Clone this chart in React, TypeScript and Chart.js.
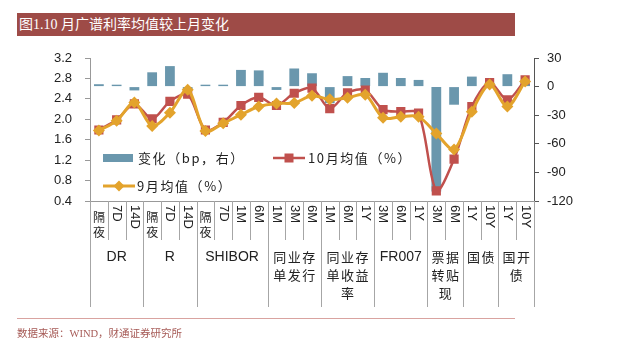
import React, { useEffect, useRef } from 'react';
import { Chart, registerables } from 'chart.js';
Chart.register(...registerables);

const categories = ['隔夜', '7D', '14D', '隔夜', '7D', '14D', '隔夜', '7D', '1M', '6M', '1M', '3M', '6M', '1M', '6M', '1Y', '3M', '6M', '1Y', '3M', '6M', '1Y', '10Y', '1Y', '10Y'];
const groupNames = ['DR', 'R', 'SHIBOR', '同业存\n单发行', '同业存\n单收益\n率', 'FR007', '票据\n转贴\n现', '国债', '国开\n债'];
const groupSpans = [3, 3, 4, 3, 3, 3, 2, 2, 2];

const changeBp = [2.5, 2, -4, 15, 21.5, -3, 2, 2, 17.5, 17, -3.5, 19, 14, -17.5, 11, 9, 14.5, 9, 7, -110, -19, 10.5, 4, 13, 3];
const octAvg = [1.79, 1.99, 2.30, 2.01, 2.35, 2.49, 1.79, 1.94, 2.27, 2.43, 2.27, 2.51, 2.61, 2.21, 2.52, 2.57, 2.19, 2.15, 2.12, 0.60, 1.22, 2.25, 2.72, 2.38, 2.77];
const sepAvg = [1.78, 1.97, 2.33, 1.87, 2.13, 2.58, 1.77, 1.92, 2.09, 2.25, 2.31, 2.32, 2.46, 2.39, 2.42, 2.48, 2.03, 2.05, 2.05, 1.72, 1.41, 2.15, 2.68, 2.25, 2.74];

const leftTicks = { min: 0.4, max: 3.2, step: 0.4 };
const rightTicks = { min: -120, max: 30, step: 30 };

const labelChange = '变化（bp，右）';
const labelOct = '10月均值（%）';
const labelSep = '9月均值（%）';

const BLUE = '#6A97AD';
const RED = '#C0504D';
const ORANGE = '#E3A32C';
const FONT = '"Liberation Sans", Arial, "Noto Sans CJK SC", sans-serif';
const CJK = '"Noto Sans CJK SC", "Liberation Sans", sans-serif';

const customPlugin = {
  id: 'customDraw',
  afterDraw(chart: any) {
    const ctx = chart.ctx as CanvasRenderingContext2D;
    const xs = chart.scales.x;
    const area = chart.chartArea;
    const n = categories.length;
    const top = area.bottom;
    const bounds = new Set<number>();
    let acc = 0;
    groupSpans.forEach((s) => { bounds.add(acc); acc += s; });
    bounds.add(acc);
    const boundaryX = (i: number) =>
      i === 0 ? xs.left : i === n ? xs.right : (xs.getPixelForValue(i - 1) + xs.getPixelForValue(i)) / 2;

    ctx.save();
    ctx.strokeStyle = '#A6A6A6';
    ctx.lineWidth = 1;
    for (let i = 0; i <= n; i++) {
      const x = Math.round(boundaryX(i)) + 0.5;
      ctx.beginPath();
      ctx.moveTo(x, top);
      ctx.lineTo(x, top + (bounds.has(i) ? 106 : 39));
      ctx.stroke();
    }

    ctx.fillStyle = '#222';
    for (let i = 0; i < n; i++) {
      const cx = xs.getPixelForValue(i);
      const lab = categories[i];
      if (/[\u4e00-\u9fff]/.test(lab)) {
        ctx.font = '12px ' + CJK;
        ctx.textAlign = 'center';
        ctx.textBaseline = 'middle';
        [...lab].forEach((ch, k) => ctx.fillText(ch, cx, top + 16 + k * 15));
      } else {
        ctx.save();
        ctx.font = '13px ' + FONT;
        ctx.translate(cx, top + 4);
        ctx.rotate(Math.PI / 2);
        ctx.textAlign = 'left';
        ctx.textBaseline = 'middle';
        ctx.fillText(lab, 0, 0);
        ctx.restore();
      }
    }

    acc = 0;
    groupNames.forEach((g, gi) => {
      const s = groupSpans[gi];
      const x0 = boundaryX(acc);
      const x1 = boundaryX(acc + s);
      acc += s;
      const cx = (x0 + x1) / 2;
      ctx.textAlign = 'center';
      ctx.textBaseline = 'middle';
      g.split('\n').forEach((line, k) => {
        const y = top + 56 + k * 18;
        if (/[\u4e00-\u9fff]/.test(line)) {
          ctx.font = '13px ' + CJK;
          const pitch = 14.5;
          const chars = [...line];
          const startX = cx - ((chars.length - 1) * pitch) / 2;
          chars.forEach((ch, j) => ctx.fillText(ch, startX + j * pitch, y));
        } else {
          ctx.font = '14px ' + FONT;
          ctx.fillText(line, cx, y);
        }
      });
    });

    // legend
    ctx.font = '13px ' + CJK;
    (ctx as any).letterSpacing = '1.6px';
    ctx.textAlign = 'left';
    ctx.textBaseline = 'middle';
    ctx.fillStyle = BLUE;
    ctx.fillRect(103, 154, 30, 8);
    ctx.fillStyle = '#222';
    ctx.fillText(labelChange, 138, 158);

    ctx.strokeStyle = RED;
    ctx.lineWidth = 2.5;
    ctx.beginPath(); ctx.moveTo(273, 158); ctx.lineTo(305, 158); ctx.stroke();
    ctx.fillStyle = RED;
    ctx.fillRect(284.5, 153.5, 9, 9);
    ctx.fillStyle = '#222';
    ctx.fillText(labelOct, 308, 158);

    ctx.strokeStyle = ORANGE;
    ctx.lineWidth = 3;
    ctx.beginPath(); ctx.moveTo(103, 186); ctx.lineTo(135, 186); ctx.stroke();
    ctx.fillStyle = ORANGE;
    ctx.beginPath();
    ctx.moveTo(119, 180.5); ctx.lineTo(124.5, 186); ctx.lineTo(119, 191.5); ctx.lineTo(113.5, 186); ctx.closePath();
    ctx.fill();
    ctx.fillStyle = '#222';
    ctx.fillText(labelSep, 137, 186);
    (ctx as any).letterSpacing = '0px';
    ctx.restore();
  },
};

export default function App() {
  const ref = useRef<HTMLCanvasElement>(null);
  useEffect(() => {
    if (!ref.current) return;
    const chart = new Chart(ref.current, {
      type: 'bar',
      data: {
        labels: categories,
        datasets: [
          {
            type: 'line',
            label: labelSep,
            data: sepAvg,
            yAxisID: 'y',
            borderColor: ORANGE,
            backgroundColor: ORANGE,
            borderWidth: 3,
            pointStyle: 'rectRot',
            pointRadius: 6,
            pointBorderWidth: 0,
            tension: 0.3,
            order: 1,
          } as any,
          {
            type: 'line',
            label: labelOct,
            data: octAvg,
            yAxisID: 'y',
            borderColor: RED,
            backgroundColor: RED,
            borderWidth: 2.5,
            pointStyle: 'rect',
            pointRadius: 6.5,
            pointBorderWidth: 0,
            tension: 0.3,
            order: 2,
          } as any,
          {
            type: 'bar',
            label: labelChange,
            data: changeBp,
            yAxisID: 'y1',
            backgroundColor: BLUE,
            categoryPercentage: 1,
            barPercentage: 0.55,
            order: 3,
          } as any,
        ],
      },
      options: {
        responsive: false,
        animation: false,
        devicePixelRatio: 1,
        layout: { padding: { top: 58, left: 0, right: 0, bottom: 0 } },
        plugins: { legend: { display: false }, tooltip: { enabled: false } },
        scales: {
          x: {
            grid: { display: false },
            border: { display: true, color: '#999' },
            ticks: { display: false },
            afterFit: (s: any) => { s.height = 141; },
          },
          y: {
            position: 'left',
            min: leftTicks.min,
            max: leftTicks.max,
            ticks: {
              stepSize: leftTicks.step,
              padding: 13,
              color: '#222',
              font: { size: 13, family: FONT },
              callback: (v: any) => Number(v).toFixed(1),
            },
            grid: { drawOnChartArea: false, drawTicks: true, tickLength: 5, color: '#999' },
            border: { display: true, color: '#999' },
            afterFit: (s: any) => { s.width = 90; },
          },
          y1: {
            position: 'right',
            min: rightTicks.min,
            max: rightTicks.max,
            ticks: {
              stepSize: rightTicks.step,
              padding: 8,
              color: '#222',
              font: { size: 13, family: FONT },
            },
            grid: { drawOnChartArea: false, drawTicks: true, tickLength: 5, color: '#555' },
            border: { display: true, color: '#555' },
            afterFit: (s: any) => { s.width = 89; },
          },
        },
      },
      plugins: [customPlugin],
    } as any);
    return () => chart.destroy();
  }, []);

  return (
    <div style={{ position: 'absolute', left: 0, top: 0, width: 623, height: 342, background: '#fff', overflow: 'hidden' }}>
      <canvas ref={ref} width={623} height={342} style={{ position: 'absolute', left: 0, top: 0 }} />
      <div
        style={{
          position: 'absolute', left: 17, top: 13, width: 498, height: 23, background: '#9E4B47',
          color: '#fff', font: '14px "Liberation Serif", "Noto Sans CJK SC", serif', lineHeight: '23px',
          paddingLeft: 2, boxSizing: 'border-box', whiteSpace: 'nowrap',
        }}
      >
        图1.10 月广谱利率均值较上月变化
      </div>
      <div style={{ position: 'absolute', left: 17, top: 318, width: 498, height: 1, background: '#D9A3A0' }} />
      <div
        style={{
          position: 'absolute', left: 17, top: 327, color: '#A65A56',
          font: '10.5px "Liberation Serif", "Noto Sans CJK SC", serif', lineHeight: '14px', whiteSpace: 'nowrap',
        }}
      >
        数据来源：WIND，财通证券研究所
      </div>
    </div>
  );
}
